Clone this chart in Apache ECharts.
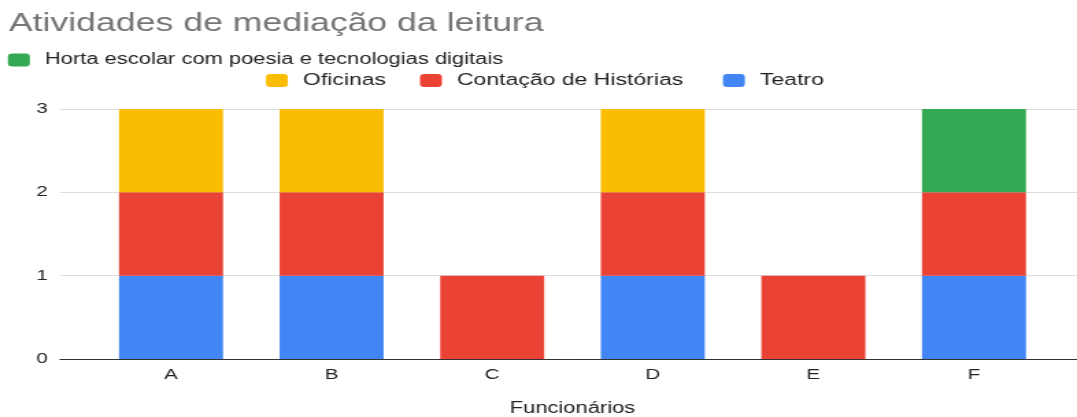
<!DOCTYPE html>
<html>
<head>
<meta charset="utf-8">
<script src="https://cdn.jsdelivr.net/npm/echarts@6/dist/echarts.min.js"></script>
<style>
html,body{margin:0;padding:0;background:#fff;}
#wrap{width:1077px;height:417px;overflow:hidden;position:relative;}
#chart{width:786px;height:417px;transform:scaleX(1.37023);transform-origin:0 0;}
</style>
</head>
<body>
<div id="wrap"><div id="chart"></div></div>
<script>
const titleText = 'Atividades de mediação da leitura';
const xAxisName = 'Funcionários';
const categories = ['A', 'B', 'C', 'D', 'E', 'F'];
const yTicks = [0, 1, 2, 3];
const seriesNames = ['Teatro', 'Contação de Histórias', 'Oficinas', 'Horta escolar com poesia e tecnologias digitais'];
const teatro   = [1, 1, 0, 1, 0, 1];
const contacao = [1, 1, 1, 1, 1, 1];
const oficinas = [1, 1, 0, 1, 0, 0];
const horta    = [0, 0, 0, 0, 0, 1];
const colors = ['#4285F4', '#EA4335', '#FBBC04', '#34A853'];

const values = [teatro, contacao, oficinas, horta];
const txt = '#222222';
const font = 'Liberation Sans, Arial, sans-serif';

function legendItem(name, left, top, size) {
  return {
    data: [name], left: left, top: top, padding: 0,
    icon: 'roundRect', itemWidth: 16, itemHeight: 13,
    textStyle: {fontFamily: font, fontSize: size, color: txt, padding: [0, 0, 0, 6]}
  };
}

const chart = echarts.init(document.getElementById('chart'), null, {renderer: 'canvas'});
const option = {
  animation: false,
  backgroundColor: '#ffffff',
  title: {
    text: titleText, left: 6.5, top: 11, padding: 0,
    textStyle: {fontFamily: font, fontSize: 26, fontWeight: 'normal', color: '#757575'}
  },
  legend: [
    legendItem(seriesNames[3], 5.8, 52, 16),
    legendItem(seriesNames[2], 194.1, 72, 16.8),
    legendItem(seriesNames[1], 306.5, 72, 16.8),
    legendItem(seriesNames[0], 527.6, 72, 16.8)
  ],
  grid: [
    {left: 43.8, right: 0, top: 109, bottom: 58, outerBoundsMode: 'none'},
    {left: 66.2, right: 16.6, top: 109, bottom: 58, outerBoundsMode: 'none'}
  ],
  xAxis: [
    {
      type: 'category', gridIndex: 0, data: categories,
      axisLine: {show: true, lineStyle: {color: '#333333', width: 1}},
      axisTick: {show: false}, axisLabel: {show: false}, splitLine: {show: false}
    },
    {
      type: 'category', gridIndex: 1, data: categories,
      name: xAxisName, nameLocation: 'middle', nameGap: 42,
      nameTextStyle: {fontFamily: font, fontSize: 16, color: txt},
      axisLine: {show: false}, axisTick: {show: false},
      axisLabel: {fontFamily: font, fontSize: 15, color: txt, margin: 8}
    }
  ],
  yAxis: [
    {
      type: 'value', gridIndex: 0, min: yTicks[0], max: yTicks[yTicks.length - 1], interval: 1,
      axisLine: {show: false}, axisTick: {show: false},
      axisLabel: {fontFamily: font, fontSize: 15, color: txt, margin: 9},
      splitLine: {lineStyle: {color: '#dddddd', width: 1}}
    },
    {
      type: 'value', gridIndex: 1, min: yTicks[0], max: yTicks[yTicks.length - 1], interval: 1,
      show: false
    }
  ],
  series: seriesNames.map((name, i) => ({
    name: name, type: 'bar', stack: 'total',
    xAxisIndex: 1, yAxisIndex: 1,
    barWidth: 75.9,
    itemStyle: {color: colors[i]},
    data: values[i]
  }))
};
chart.setOption(option);
</script>
</body>
</html>
